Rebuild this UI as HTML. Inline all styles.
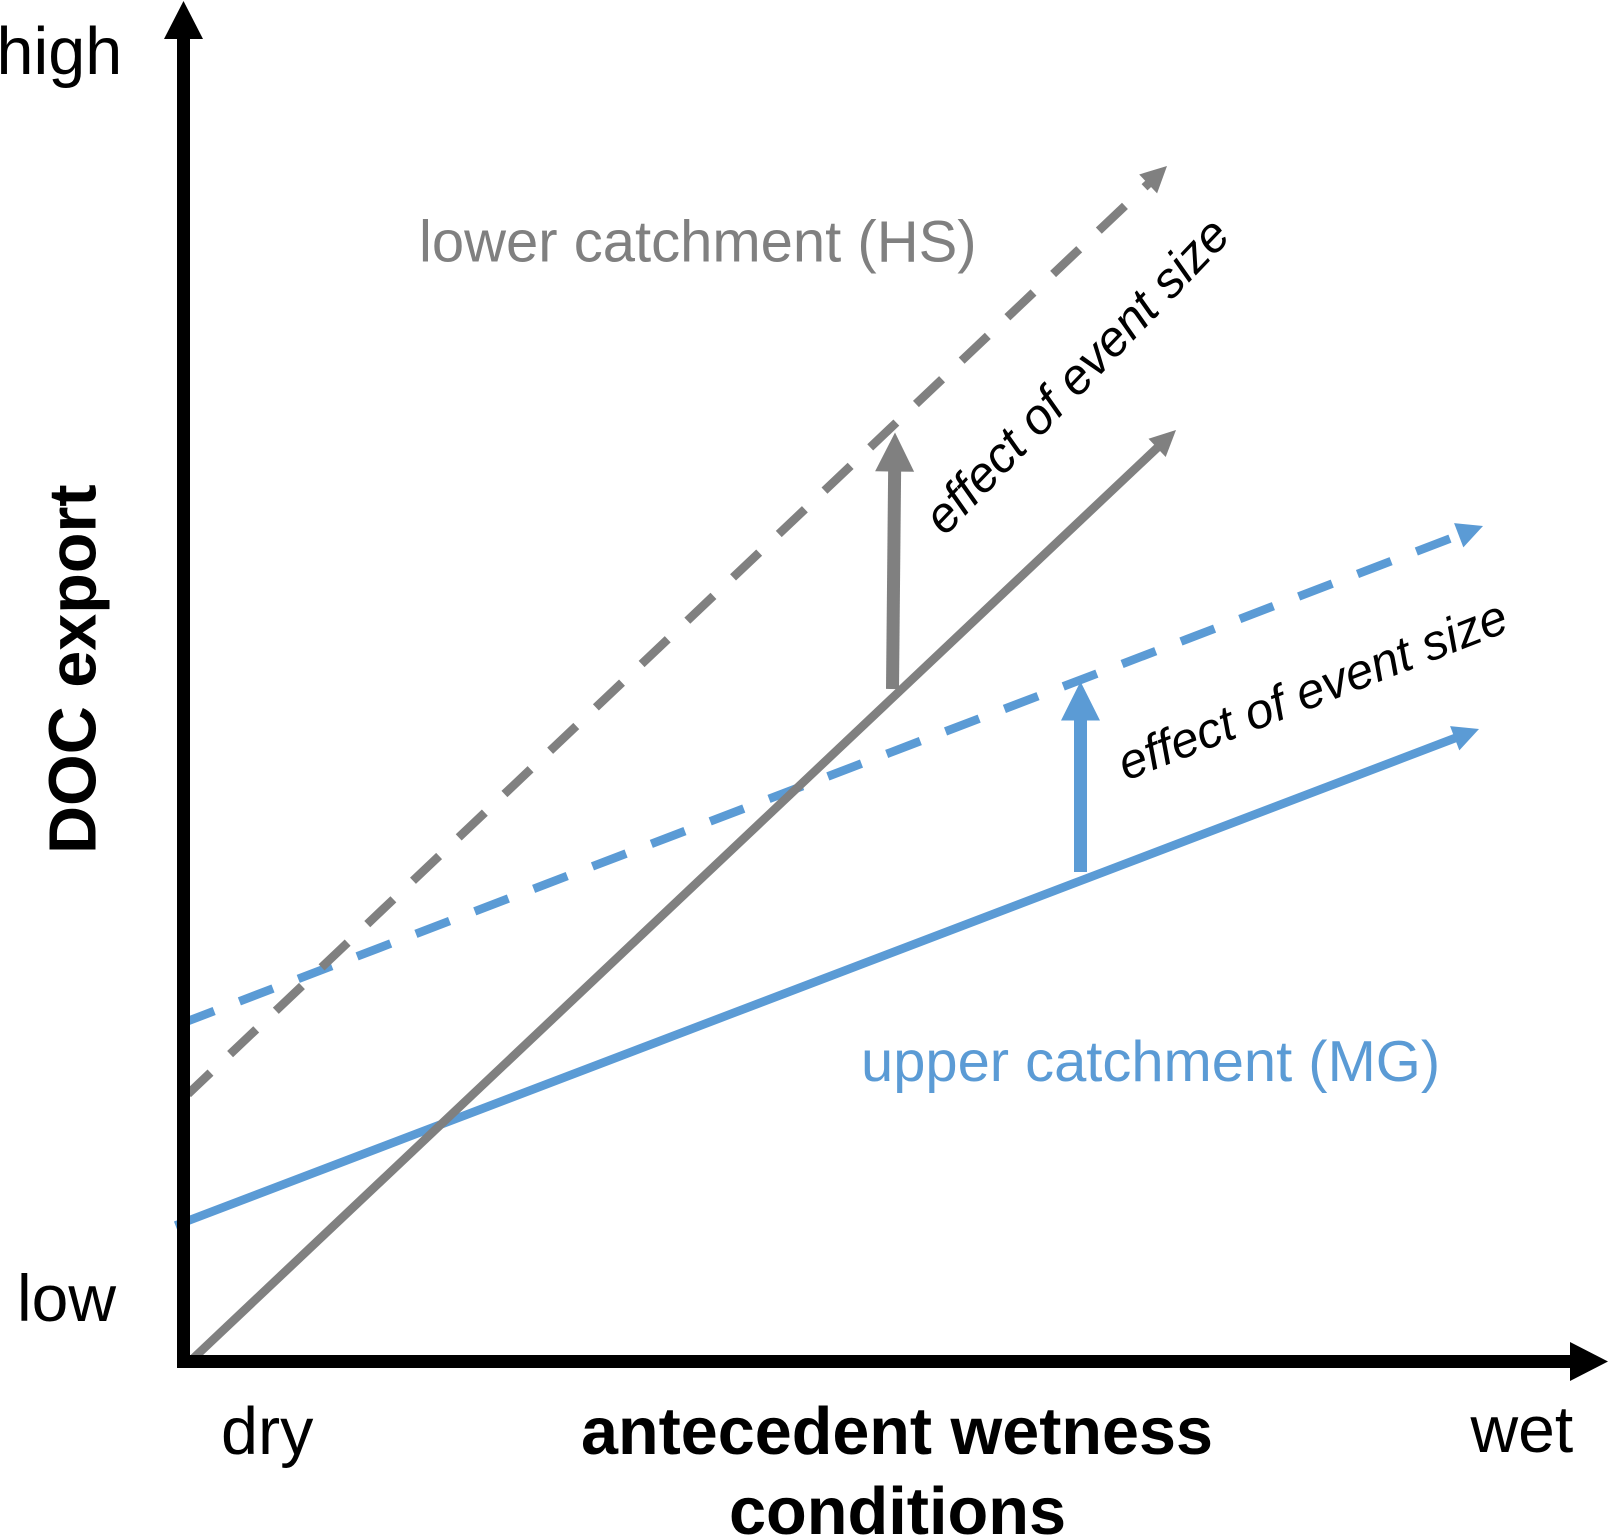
<!DOCTYPE html>
<html lang="en">
<head>
<meta charset="utf-8">
<title>DOC export vs antecedent wetness</title>
<style>
  html, body { margin: 0; padding: 0; background: #ffffff; }
  svg { display: block; }
  text { font-family: "Liberation Sans", Arial, sans-serif; }
</style>
</head>
<body>
<svg id="chart" width="1609" height="1535" viewBox="0 0 1609 1535" xmlns="http://www.w3.org/2000/svg">
  <rect x="0" y="0" width="1609" height="1535" fill="#ffffff"/>
  <g id="series-layer"></g>
  <g id="axis-layer"></g>

  <text x="-3.5" y="74" font-size="66.5" fill="#000">high</text>
  <text x="17" y="1321" font-size="66" fill="#000">low</text>
  <text x="221" y="1454" font-size="66.5" fill="#000">dry</text>
  <text x="1470.5" y="1452" font-size="66" fill="#000">wet</text>
  <text x="897" y="1454" font-size="66.5" font-weight="700" text-anchor="middle" fill="#000">antecedent wetness</text>
  <text x="897.5" y="1534" font-size="66.7" font-weight="700" text-anchor="middle" fill="#000">conditions</text>
  <text transform="translate(95.5 854) rotate(-90)" font-size="66.5" font-weight="700" fill="#000">DOC export</text>
  <text x="419" y="261.5" font-size="58" fill="#808080">lower catchment (HS)</text>
  <text x="861" y="1081" font-size="57.9" fill="#5b9bd5">upper catchment (MG)</text>
  <text transform="translate(945 537) rotate(-46.2)" font-size="49.8" font-style="italic" fill="#000">effect of event size</text>
  <text transform="translate(1126 781) rotate(-21.4)" font-size="49.6" font-style="italic" fill="#000">effect of event size</text>
</svg>

<script>
// Conceptual relative units: wetness (x) and DOC export (y), measured from the axis origin.
const upperBaseWetness = [-0.8, 129.55];
const upperBaseExport = [13.6, 63.25];
const upperEventWetness = [0.45, 129.95];
const upperEventExport = [34.05, 83.55];
const lowerBaseWetness = [0.7, 99.25];
const lowerBaseExport = [0.05, 93.15];
const lowerEventWetness = [0.45, 98.35];
const lowerEventExport = [26.75, 119.55];
const lowerEffectWetness = [70.9, 71.15];
const lowerEffectExport = [67.25, 92.9];
const upperEffectWetness = [89.7, 89.7];
const upperEffectExport = [48.95, 68.0];
const xAxisWetness = [-0.45, 142.45];
const xAxisExport = [0, 0];
const yAxisWetness = [0, 0];
const yAxisExport = [-0.65, 136.05];

const ORIGIN_X = 183.5;
const ORIGIN_Y = 1361.5;
const UNIT = 10;
function xScale(v) { return ORIGIN_X + v * UNIT; }
function yScale(v) { return ORIGIN_Y - v * UNIT; }

const SVG_NS = 'http://www.w3.org/2000/svg';
const seriesLayer = document.getElementById('series-layer');
const axisLayer = document.getElementById('axis-layer');

function drawArrow(layer, name, xs, ys, opts) {
  const x1 = xScale(xs[0]);
  const y1 = yScale(ys[0]);
  const x2 = xScale(xs[1]);
  const y2 = yScale(ys[1]);
  const len = Math.hypot(x2 - x1, y2 - y1);
  const ux = (x2 - x1) / len;
  const uy = (y2 - y1) / len;
  const bx = x2 - ux * opts.headLen;
  const by = y2 - uy * opts.headLen;
  const inset = opts.headLen * 0.1;

  const line = document.createElementNS(SVG_NS, 'line');
  
  
  line.setAttribute('x1', x1);
  line.setAttribute('y1', y1);
  line.setAttribute('x2', bx + ux * inset);
  line.setAttribute('y2', by + uy * inset);
  line.setAttribute('stroke', opts.color);
  line.setAttribute('stroke-width', opts.width);
  if (opts.dash) {
    line.setAttribute('stroke-dasharray', opts.dash);
    line.setAttribute('stroke-dashoffset', opts.offset);
  }
  layer.appendChild(line);

  const hw = opts.headWidth / 2;
  const head = document.createElementNS(SVG_NS, 'polygon');
  
  
  head.setAttribute('points',
    x2 + ',' + y2 + ' ' +
    (bx - uy * hw) + ',' + (by + ux * hw) + ' ' +
    (bx + uy * hw) + ',' + (by - ux * hw));
  head.setAttribute('fill', opts.color);
  layer.appendChild(head);
}

const BLUE = '#5b9bd5';
const GRAY = '#808080';
const BLACK = '#000000';

drawArrow(seriesLayer, 'upper-catchment-base', upperBaseWetness, upperBaseExport,
  { color: BLUE, width: 8.6, headLen: 26, headWidth: 26 });
drawArrow(seriesLayer, 'upper-catchment-event', upperEventWetness, upperEventExport,
  { color: BLUE, width: 8.6, headLen: 26, headWidth: 26, dash: '36 27', offset: 8 });
drawArrow(seriesLayer, 'lower-catchment-event', lowerEventWetness, lowerEventExport,
  { color: GRAY, width: 8.6, headLen: 26, headWidth: 26, dash: '36 27', offset: 5 });
drawArrow(seriesLayer, 'lower-catchment-base', lowerBaseWetness, lowerBaseExport,
  { color: GRAY, width: 8.6, headLen: 26, headWidth: 25 });
drawArrow(seriesLayer, 'lower-event-effect-arrow', lowerEffectWetness, lowerEffectExport,
  { color: GRAY, width: 13, headLen: 39, headWidth: 39 });
drawArrow(seriesLayer, 'upper-event-effect-arrow', upperEffectWetness, upperEffectExport,
  { color: BLUE, width: 13, headLen: 39, headWidth: 39 });

drawArrow(axisLayer, 'x-axis', xAxisWetness, xAxisExport,
  { color: BLACK, width: 13, headLen: 38, headWidth: 39 });
drawArrow(axisLayer, 'y-axis', yAxisWetness, yAxisExport,
  { color: BLACK, width: 13, headLen: 38, headWidth: 39 });
</script>
</body>
</html>
